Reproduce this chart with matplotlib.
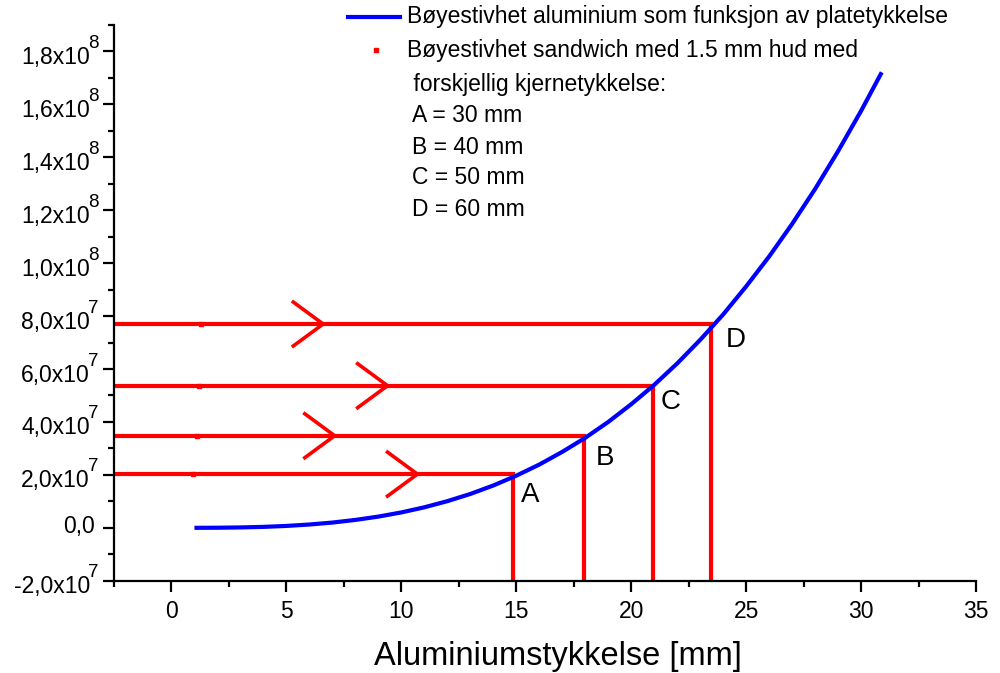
import numpy as np
import matplotlib
matplotlib.use("Agg")
import matplotlib.pyplot as plt
from matplotlib.lines import Line2D
from matplotlib.ticker import MultipleLocator, NullFormatter

plt.rcParams['font.family'] = ['Liberation Sans', 'DejaVu Sans']

# Aluminium plate: bending stiffness vs plate thickness
thickness = [1.0, 2, 3, 4, 5, 6, 7, 8, 9, 10, 11, 12, 13, 14, 15, 16,
             17, 18, 19, 20, 21, 22, 23, 24, 25, 26, 27, 28, 29, 30, 30.9]
stiffness = [0.0006e7, 0.005e7, 0.016e7, 0.037e7, 0.073e7, 0.126e7, 0.20e7,
             0.30e7, 0.425e7, 0.583e7, 0.776e7, 1.008e7, 1.28e7, 1.60e7,
             1.97e7, 2.39e7, 2.87e7, 3.40e7, 4.00e7, 4.67e7, 5.40e7, 6.21e7,
             7.10e7, 8.06e7, 9.12e7, 10.25e7, 11.48e7, 12.80e7, 14.23e7,
             15.75e7, 17.21e7]

# Sandwich panels A-D
sandwich_labels = ['A', 'B', 'C', 'D']
sandwich_stiffness = [2.03e7, 3.48e7, 5.37e7, 7.70e7]
sandwich_x = [0.95, 1.1, 1.2, 1.3]
equiv_thickness = [14.85, 17.95, 20.95, 23.45]
arrow_tip = [10.7, 7.1, 9.4, 6.6]
label_pos = [(15.6, 1.25e7), (18.85, 2.65e7), (21.7, 4.75e7), (24.55, 7.1e7)]

# y tick labels: value, mantissa, exponent
ytick_vals = [-2e7, 0, 2e7, 4e7, 6e7, 8e7, 1e8, 1.2e8, 1.4e8, 1.6e8, 1.8e8]
ytick_mant = ['-2,0x10', '0,0', '2,0x10', '4,0x10', '6,0x10', '8,0x10',
              '1,0x10', '1,2x10', '1,4x10', '1,6x10', '1,8x10']
ytick_exp = ['7', '', '7', '7', '7', '7', '8', '8', '8', '8', '8']

legend_lines = ['Bøyestivhet aluminium som funksjon av platetykkelse',
                'Bøyestivhet sandwich med 1.5 mm hud med',
                ' forskjellig kjernetykkelse:',
                'A = 30 mm', 'B = 40 mm', 'C = 50 mm', 'D = 60 mm']

XMIN, XMAX = -2.5, 35
YMIN, YMAX = -2e7, 1.9e8
RED = '#ff0000'
BLUE = '#0000ff'

fig = plt.figure(figsize=(10, 6.73), dpi=100)
ax = fig.add_axes([0.114, 0.137, 0.862, 0.826])

ax.plot(thickness, stiffness, color=BLUE, lw=3, solid_capstyle='butt', zorder=3)

for i, name in enumerate(sandwich_labels):
    y = sandwich_stiffness[i]
    xe = equiv_thickness[i]
    ax.plot([XMIN, xe, xe], [y, y, YMIN], color=RED, lw=3,
            solid_joinstyle='miter', zorder=2)
    tip = arrow_tip[i]
    ax.plot([tip - 1.3, tip, tip - 1.3], [y + 0.83e7, y, y - 0.83e7],
            color=RED, lw=2.6, zorder=2)
    ax.plot(sandwich_x[i], y, 's', color=RED, ms=3.5, zorder=4)
    ax.text(label_pos[i][0], label_pos[i][1], name, fontsize=20,
            ha='center', va='center')

ax.set_xlim(XMIN, XMAX)
ax.set_ylim(YMIN, YMAX)

for s in ['top', 'right']:
    ax.spines[s].set_visible(False)
for s in ['left', 'bottom']:
    ax.spines[s].set_linewidth(1.6)

ax.xaxis.set_major_locator(MultipleLocator(5))
ax.xaxis.set_minor_locator(MultipleLocator(2.5))
ax.yaxis.set_major_locator(MultipleLocator(2e7))
ax.yaxis.set_minor_locator(MultipleLocator(1e7))
ax.yaxis.set_major_formatter(NullFormatter())
ax.tick_params(which='major', direction='out', length=8, width=1.6,
               labelsize=16.5, pad=6)
ax.tick_params(which='minor', direction='out', length=4, width=1.6)

# y tick labels with a large, overlapping exponent like the original
ytr = ax.get_yaxis_transform()
for v, m, e in zip(ytick_vals, ytick_mant, ytick_exp):
    if e:
        ax.annotate(m, xy=(0, v), xycoords=ytr, xytext=(-24, -6),
                    textcoords='offset pixels', ha='right', va='center',
                    fontsize=16.5, annotation_clip=False)
        ax.annotate(e, xy=(0, v), xycoords=ytr, xytext=(-26, 8),
                    textcoords='offset pixels', ha='left', va='center',
                    fontsize=13.5, annotation_clip=False)
    else:
        ax.annotate(m, xy=(0, v), xycoords=ytr, xytext=(-19, 1),
                    textcoords='offset pixels', ha='right', va='center',
                    fontsize=16.5, annotation_clip=False)

ax.set_xlabel('Aluminiumstykkelse [mm]', fontsize=23.5)
ax.xaxis.set_label_coords(0.515, -0.108)

# legend drawn by hand in figure coordinates
H = 673.0
fig.add_artist(Line2D([0.348, 0.400], [1 - 17 / H] * 2, color=BLUE, lw=3))
fig.add_artist(Line2D([0.376], [1 - 50 / H], marker='s', color=RED, ms=3.5))
ys = [17, 50, 84, 116, 147, 178, 210]
xs = [0.407, 0.407, 0.407, 0.412, 0.412, 0.412, 0.412]
for txt, yy, xx in zip(legend_lines, ys, xs):
    fig.text(xx, 1 - yy / H, txt, fontsize=16.5, ha='left', va='center')

fig.savefig('out.png', dpi=100)
